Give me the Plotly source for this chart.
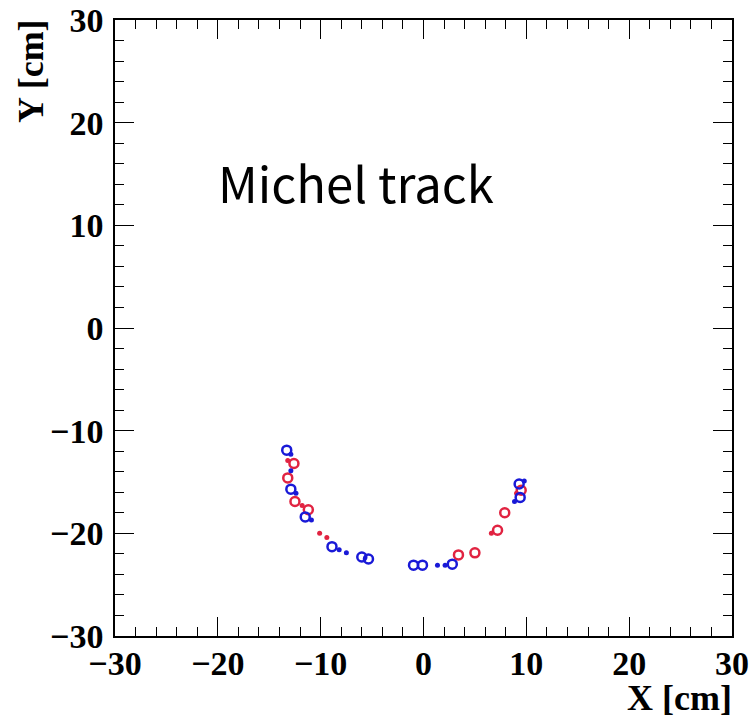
import plotly.graph_objects as go

# Blue open circles
blue_open_x = [-13.3, -12.9, -11.5, -8.9, -6.0, -5.35, -0.97, -0.1, 2.8, 9.4, 9.3]
blue_open_y = [-11.9, -15.7, -18.4, -21.3, -22.3, -22.5, -23.1, -23.1, -23.0, -16.5, -15.2]
# Blue small dots
blue_dot_x = [-12.9, -12.9, -12.4, -10.9, -8.2, -7.5, 1.36, 2.1, 8.85, 9.8]
blue_dot_y = [-12.3, -13.9, -16.1, -18.7, -21.6, -21.9, -23.1, -23.1, -16.9, -14.9]
# Red open circles
red_open_x = [-12.6, -13.2, -12.5, -11.2, 3.4, 5.0, 7.2, 7.9, 9.5]
red_open_y = [-13.2, -14.6, -16.9, -17.7, -22.1, -21.9, -19.7, -18.0, -15.8]
# Red small dots
red_dot_x = [-13.2, -11.8, -10.1, -9.4, 6.6, 9.05]
red_dot_y = [-12.9, -17.3, -20.0, -20.4, -20.0, -16.1]

BLUE = "rgb(25,25,215)"
RED = "rgb(225,35,65)"

fig = go.Figure()
fig.add_trace(go.Scatter(x=red_open_x, y=red_open_y, mode="markers",
                         marker=dict(symbol="circle-open", size=9, color=RED, line=dict(width=2.5, color=RED))))
fig.add_trace(go.Scatter(x=red_dot_x, y=red_dot_y, mode="markers",
                         marker=dict(symbol="circle", size=5, color=RED)))
fig.add_trace(go.Scatter(x=blue_open_x, y=blue_open_y, mode="markers",
                         marker=dict(symbol="circle-open", size=9, color=BLUE, line=dict(width=2.5, color=BLUE))))
fig.add_trace(go.Scatter(x=blue_dot_x, y=blue_dot_y, mode="markers",
                         marker=dict(symbol="circle", size=5, color=BLUE)))

tickfont = dict(family="Liberation Serif", size=34, color="black")
axis_common = dict(
    range=[-30, 30], dtick=10, tick0=0, ticks="inside", ticklen=19, tickwidth=1.3,
    tickcolor="black", showline=True, linecolor="black", linewidth=1.5,
    mirror="allticks", showgrid=False, zeroline=False, tickfont=tickfont,
    automargin=False,
    tickprefix="<b>", ticksuffix="</b>",
    minor=dict(dtick=2, ticks="inside", ticklen=9, tickwidth=1.3, tickcolor="black", showgrid=False),
)

fig.update_layout(
    width=752, height=717,
    margin=dict(l=115, r=20, t=20, b=81, autoexpand=False),
    paper_bgcolor="white", plot_bgcolor="white",
    showlegend=False,
    xaxis=dict(**axis_common, ticklabelstandoff=-4),
    yaxis=dict(**axis_common, ticklabelstandoff=3),
    annotations=[
        dict(text="Michel track", x=-6.6, y=14.3, xref="x", yref="y", showarrow=False,
             font=dict(family="Noto Sans CJK JP", size=49, color="black")),
        dict(text="<b>X [cm]</b>", x=1, y=0, xref="paper", yref="paper", xanchor="right",
             yanchor="top", yshift=-40, xshift=2, showarrow=False,
             font=dict(family="Liberation Serif", size=36, color="black")),
        dict(text="<b>Y [cm]</b>", x=0, y=1, xref="paper", yref="paper", xanchor="right",
             yanchor="top", xshift=-62, yshift=3, textangle=-90, showarrow=False,
             font=dict(family="Liberation Serif", size=36, color="black")),
    ],
)

fig.write_html("out.html")
